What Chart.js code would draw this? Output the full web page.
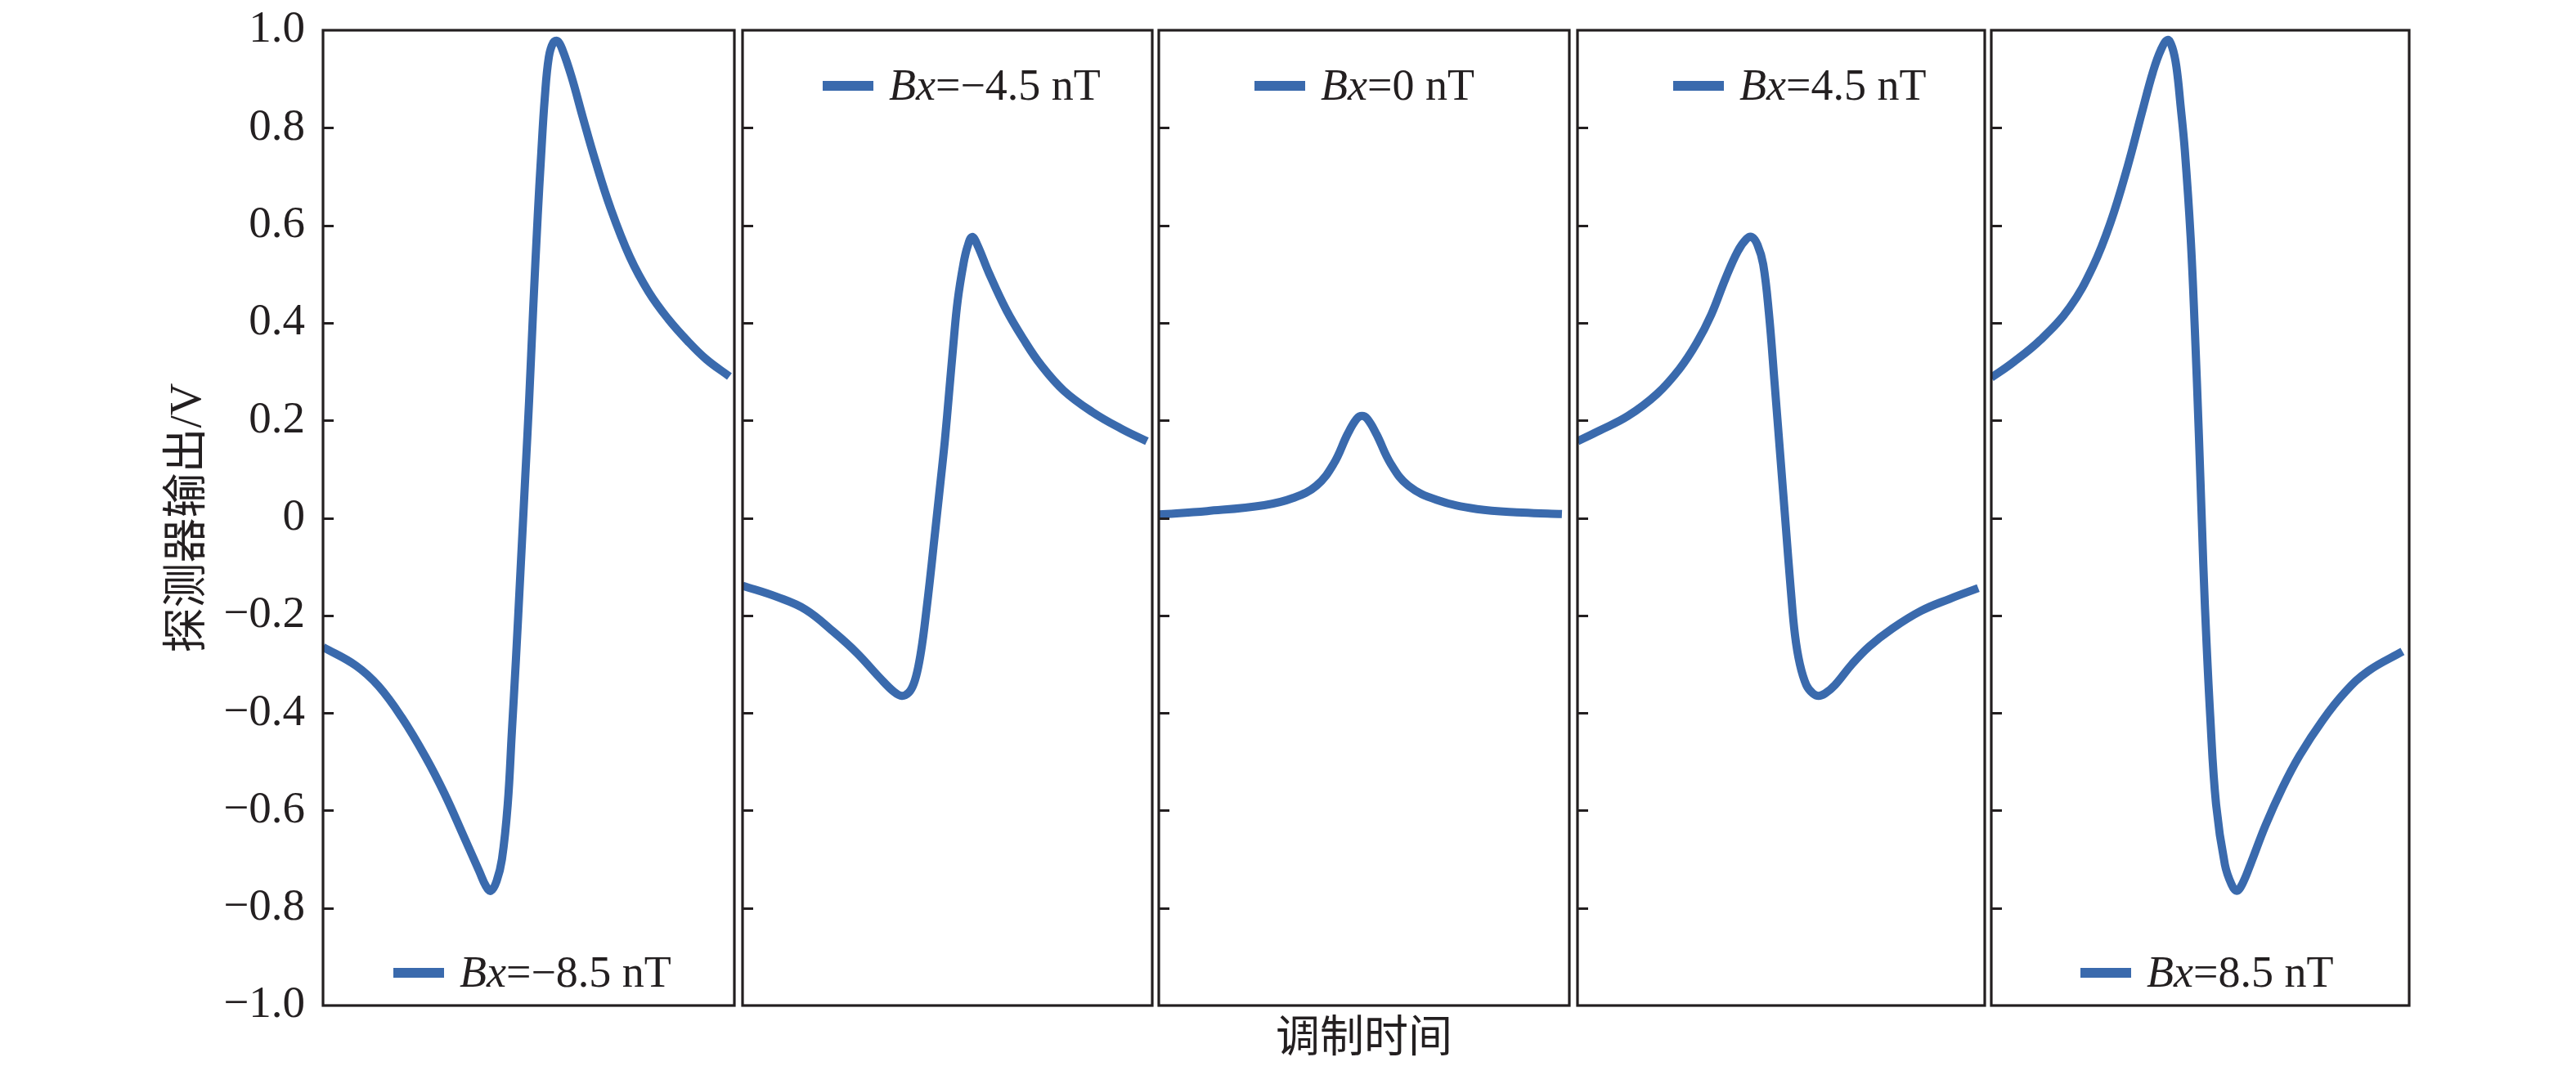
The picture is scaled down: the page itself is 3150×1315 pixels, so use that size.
<!DOCTYPE html>
<html>
<head>
<meta charset="utf-8">
<script src="https://cdn.jsdelivr.net/npm/chart.js@4.4.1/dist/chart.umd.min.js"></script>
<style>
  html, body { margin: 0; padding: 0; background: #fff; }
  #wrap { position: relative; width: 3150px; height: 1315px; overflow: hidden; background: #fff; }
  #wrap canvas { position: absolute; top: 0; }
</style>
</head>
<body>
<div id="wrap"></div>
<script>
// y axis ticks
const yTickValues = [-1, -0.8, -0.6, -0.4, -0.2, 0, 0.2, 0.4, 0.6, 0.8, 1];
const yTickLabels = ["−1.0", "−0.8", "−0.6", "−0.4", "−0.2", "0", "0.2", "0.4", "0.6", "0.8", "1.0"];

// legend values (Bx, nT), one per panel
const bxLabels = ["−8.5", "−4.5", "0", "4.5", "8.5"];

// curves; x = position across the panel, 0..100
const p1X = [0, 8.0, 13.5, 19.2, 24.9, 29.5, 34.2, 38.0, 39.6, 40.8, 42.2, 43.5, 44.9, 45.9, 46.9, 48.0, 49.2, 50.1, 51.1, 52.2, 53.0, 53.9, 54.9, 56.0, 57.0, 58.2, 60.4, 63.2, 66.1, 69.9, 74.6, 79.2, 83.9, 88.6, 93.2, 98.8];
const p1Y = [-0.265, -0.303, -0.345, -0.41, -0.49, -0.565, -0.653, -0.725, -0.755, -0.765, -0.745, -0.70, -0.588, -0.44, -0.29, -0.11, 0.09, 0.24, 0.43, 0.62, 0.74, 0.86, 0.945, 0.975, 0.978, 0.96, 0.905, 0.82, 0.735, 0.635, 0.535, 0.463, 0.408, 0.363, 0.325, 0.29];

const p2X = [0, 8.4, 15.4, 22.4, 27.9, 33.5, 37.0, 38.9, 40.6, 41.8, 42.9, 43.9, 44.8, 45.7, 46.6, 47.5, 48.4, 49.4, 50.4, 51.5, 52.5, 53.9, 54.9, 56.0, 57.2, 60.2, 64.4, 68.6, 72.8, 78.4, 85.4, 92.4, 98.7];
const p2Y = [-0.139, -0.162, -0.188, -0.235, -0.277, -0.328, -0.357, -0.365, -0.358, -0.34, -0.305, -0.255, -0.195, -0.13, -0.06, 0.01, 0.08, 0.16, 0.255, 0.36, 0.445, 0.52, 0.556, 0.576, 0.562, 0.501, 0.426, 0.366, 0.314, 0.261, 0.217, 0.183, 0.157];

const p3X = [0, 11.8, 25.7, 32.8, 38.4, 42.6, 46.0, 48.2, 49.5, 50.8, 53.0, 56.5, 60.8, 67.7, 77.5, 88.6, 98.2];
const p3Y = [0.007, 0.014, 0.026, 0.041, 0.066, 0.111, 0.172, 0.203, 0.209, 0.203, 0.172, 0.111, 0.066, 0.037, 0.018, 0.011, 0.008];

const p4X = [0, 5.4, 12.4, 19.5, 25.1, 29.3, 32.9, 36.3, 39.3, 41.5, 42.8, 44.2, 45.6, 47.0, 48.4, 49.8, 51.2, 52.4, 53.4, 54.6, 56.2, 57.8, 59.2, 60.8, 63.2, 67.4, 71.6, 77.3, 84.3, 91.4, 98.4];
const p4Y = [0.157, 0.179, 0.209, 0.254, 0.306, 0.359, 0.418, 0.49, 0.546, 0.572, 0.576, 0.56, 0.52, 0.42, 0.276, 0.127, -0.023, -0.15, -0.24, -0.30, -0.343, -0.36, -0.365, -0.36, -0.343, -0.30, -0.264, -0.227, -0.191, -0.166, -0.144];

const p5X = [0, 5.1, 11.9, 18.8, 24.3, 28.5, 32.6, 36.0, 38.7, 40.6, 42.2, 43.3, 44.3, 45.3, 46.3, 47.7, 48.7, 49.7, 50.4, 51.1, 52.4, 53.8, 55.9, 57.5, 58.7, 60.0, 62.0, 65.6, 69.7, 73.8, 79.3, 84.7, 90.2, 98.4];
const p5Y = [0.2875, 0.318, 0.366, 0.432, 0.515, 0.605, 0.72, 0.83, 0.915, 0.96, 0.98, 0.965, 0.925, 0.845, 0.755, 0.576, 0.388, 0.164, -0.011, -0.177, -0.408, -0.588, -0.711, -0.752, -0.765, -0.752, -0.711, -0.631, -0.553, -0.487, -0.415, -0.357, -0.314, -0.274];

const panelXs = [p1X, p2X, p3X, p4X, p5X];
const panelYs = [p1Y, p2Y, p3Y, p4Y, p5Y];

// layout (pixels)
const panelBox = [[395, 898], [908, 1409], [1417, 1919], [1929, 2427], [2435, 2946]];
const plotTop = 37, plotBottom = 1230, H = 1315, PAD = 6;
const legendSide = ["bottom", "top", "top", "top", "bottom"];
const legendDx = [86, 98, 117, 117, 109];

const INK = "#231f20";
const CURVE = "#3a6aad";
const SERIF = '"Liberation Serif", "Times New Roman", "Noto Sans CJK SC", serif';

const panelDecor = {
  id: "panelDecor",
  afterDatasetsDraw(chart, args, opts) {
    const ctx = chart.ctx, ca = chart.chartArea, ys = chart.scales.y;
    ctx.save();
    ctx.strokeStyle = INK;
    ctx.lineWidth = 3.2;
    // inward tick marks on the left edge
    ctx.beginPath();
    yTickValues.forEach(v => {
      if (Math.abs(v) === 1) return;
      const y = Math.round(ys.getPixelForValue(v)) + 0.5;
      ctx.moveTo(ca.left, y);
      ctx.lineTo(ca.left + 13, y);
    });
    ctx.stroke();
    // frame
    ctx.strokeRect(ca.left, ca.top, ca.right - ca.left, ca.bottom - ca.top);

    // legend
    const i = opts.index;
    const ly = legendSide[i] === "top" ? ca.top + 68 : ca.bottom - 40;
    const lx = ca.left + legendDx[i];
    ctx.strokeStyle = CURVE;
    ctx.lineWidth = 12;
    ctx.lineCap = "butt";
    ctx.beginPath();
    ctx.moveTo(lx, ly);
    ctx.lineTo(lx + 62, ly);
    ctx.stroke();
    ctx.fillStyle = INK;
    ctx.textBaseline = "alphabetic";
    ctx.textAlign = "left";
    let tx = lx + 81;
    const base = ly + 17;
    ctx.font = "italic 54px " + SERIF;
    ctx.fillText("Bx", tx, base);
    tx += ctx.measureText("Bx").width;
    ctx.font = "54px " + SERIF;
    ctx.fillText("=" + bxLabels[i] + " nT", tx, base);
    ctx.restore();
  }
};

const wrap = document.getElementById("wrap");

function makePanel(i) {
  const [L, R] = panelBox[i];
  const first = i === 0;
  const left = first ? 0 : L - PAD;
  const width = R + PAD - left;
  const canvas = document.createElement("canvas");
  canvas.width = width;
  canvas.height = H;
  canvas.style.left = left + "px";
  canvas.style.width = width + "px";
  canvas.style.height = H + "px";
  wrap.appendChild(canvas);

  const pts = panelXs[i].map((x, k) => ({ x: x, y: panelYs[i][k] }));

  new Chart(canvas, {
    type: "line",
    data: {
      datasets: [{
        data: pts,
        borderColor: CURVE,
        borderWidth: 10,
        pointRadius: 0,
        fill: false,
        tension: 0.4,
        borderCapStyle: "butt",
        borderJoinStyle: "round"
      }]
    },
    options: {
      responsive: false,
      animation: false,
      devicePixelRatio: 1,
      layout: { padding: { top: plotTop, right: PAD, left: 0, bottom: 0 } },
      plugins: {
        legend: { display: false },
        tooltip: { enabled: false },
        panelDecor: { index: i }
      },
      scales: {
        x: {
          type: "linear", min: 0, max: 100,
          ticks: { display: false },
          grid: { display: false, drawTicks: false },
          border: { display: false },
          title: {
            display: i === 2,
            text: "调制时间",
            color: INK,
            font: { family: SERIF, size: 54 },
            padding: { top: 0, bottom: 10 }
          },
          afterFit: s => { s.height = H - plotBottom; s.paddingLeft = 0; s.paddingRight = 0; }
        },
        y: {
          type: "linear", min: -1, max: 1,
          afterBuildTicks: s => { s.ticks = yTickValues.map(v => ({ value: v })); },
          ticks: {
            display: first,
            padding: 22,
            color: INK,
            font: { family: SERIF, size: 55 },
            callback: (v, idx) => yTickLabels[idx]
          },
          grid: { display: false, drawTicks: false },
          border: { display: false },
          title: {
            display: first,
            text: "探测器输出/V",
            color: INK,
            font: { family: SERIF, size: 55 },
            padding: { top: 198, bottom: 0 }
          },
          afterFit: s => { s.width = first ? L : PAD; s.paddingTop = 0; s.paddingBottom = 0; }
        }
      }
    },
    plugins: [panelDecor]
  });
}

for (let i = 0; i < 5; i++) makePanel(i);
</script>
</body>
</html>
